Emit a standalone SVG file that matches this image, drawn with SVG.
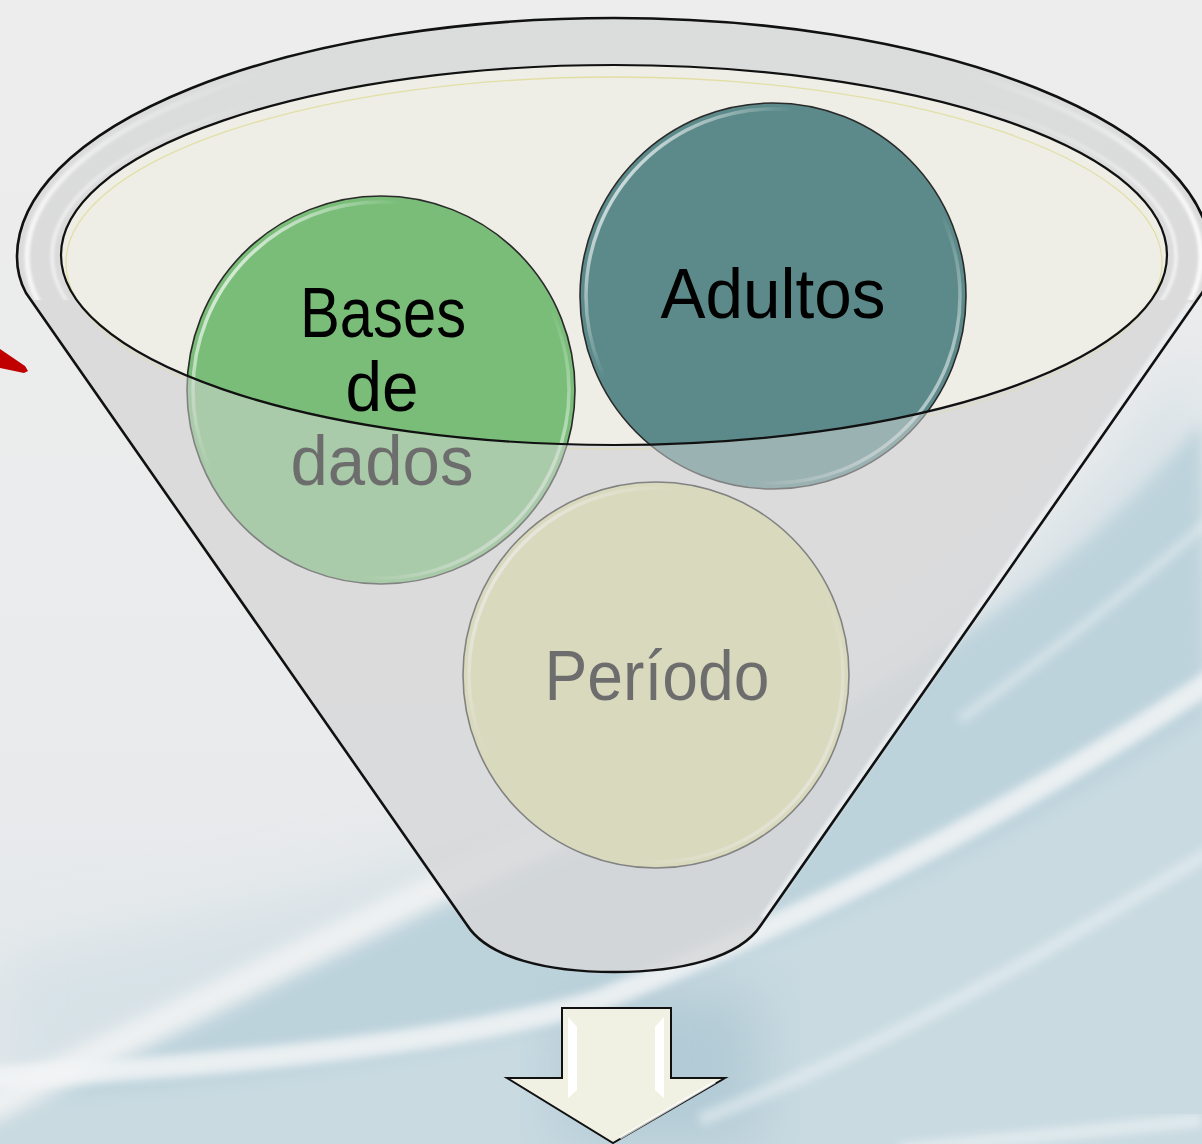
<svg xmlns="http://www.w3.org/2000/svg" width="1202" height="1144" viewBox="0 0 1202 1144">
<defs>
<style>
.lbl{font-family:"Liberation Sans",Arial,sans-serif;font-size:70px;fill:#000;text-anchor:middle}
.cstroke{stroke:#2a2a2a;stroke-width:1.6}
.ring{fill:none;stroke:url(#ring);stroke-width:3.5}
</style>
<filter id="blur30" x="-20%" y="-20%" width="140%" height="140%"><feGaussianBlur stdDeviation="30"/></filter>
<filter id="blur8" x="-20%" y="-20%" width="140%" height="140%"><feGaussianBlur stdDeviation="8"/></filter>
<filter id="blur4" x="-20%" y="-20%" width="140%" height="140%"><feGaussianBlur stdDeviation="4"/></filter>
<filter id="blur2" x="-20%" y="-20%" width="140%" height="140%"><feGaussianBlur stdDeviation="1.5"/></filter>
<linearGradient id="ring" x1="0" y1="0.15" x2="1" y2="0.85">
<stop offset="0" stop-color="#fff" stop-opacity="0.95"/>
<stop offset="0.3" stop-color="#fff" stop-opacity="0"/>
<stop offset="0.7" stop-color="#fff" stop-opacity="0"/>
<stop offset="1" stop-color="#fff" stop-opacity="0.75"/>
</linearGradient>
<linearGradient id="rimhl" gradientUnits="userSpaceOnUse" x1="0" y1="0" x2="1202" y2="0">
<stop offset="0" stop-color="#fff" stop-opacity="0.9"/>
<stop offset="0.1" stop-color="#fff" stop-opacity="0.4"/>
<stop offset="0.22" stop-color="#fff" stop-opacity="0"/>
<stop offset="0.8" stop-color="#fff" stop-opacity="0"/>
<stop offset="0.92" stop-color="#fff" stop-opacity="0.4"/>
<stop offset="1" stop-color="#fff" stop-opacity="0.9"/>
</linearGradient>
<linearGradient id="bgv" x1="0" y1="0" x2="0" y2="1">
<stop offset="0" stop-color="#EDEDED"/>
<stop offset="0.6" stop-color="#EAEBEC"/>
<stop offset="1" stop-color="#E2E8EB"/>
</linearGradient>
<clipPath id="topclip"><rect x="0" y="0" width="1202" height="300"/></clipPath>
</defs>

<g id="background">
<rect width="1202" height="1144" fill="url(#bgv)"/>
<path d="M1202,330 C1100,500 950,640 760,740 C560,840 300,900 0,960 L0,1144 L1202,1144 Z" fill="#D7E2E7" filter="url(#blur30)"/>
<path d="M1202,420 C1110,540 960,650 780,745 L420,900 L-20,1110 L-20,1160 L1220,1160 Z" fill="#BDD3DC" filter="url(#blur8)"/>
<path d="M1230,700 C1050,820 850,920 600,1010 C450,1060 200,1090 -20,1100 L-20,1160 L1220,1160 Z" fill="#C9DAE1" filter="url(#blur8)"/>
<path d="M560,990 L760,990 L760,1144 L560,1144 Z" fill="#B2CBD6" filter="url(#blur30)"/>
<path d="M-20,1112 L420,898 L720,760" fill="none" stroke="#F4F5F5" stroke-width="30" stroke-opacity="0.85" filter="url(#blur8)"/>
<path d="M1230,668 C1050,790 850,900 600,1000 C450,1045 200,1068 -20,1078" fill="none" stroke="#F2F5F6" stroke-width="22" stroke-opacity="0.85" filter="url(#blur4)"/>
<path d="M1230,840 C1050,950 900,1040 700,1120" fill="none" stroke="#EEF3F5" stroke-width="14" stroke-opacity="0.5" filter="url(#blur4)"/>
<path d="M1210,520 C1120,600 1040,660 960,720" fill="none" stroke="#EEF3F5" stroke-width="10" stroke-opacity="0.45" filter="url(#blur4)"/>
<path d="M1202,1120 C1100,1130 1000,1140 900,1150" fill="none" stroke="#EEF3F5" stroke-width="14" stroke-opacity="0.6" filter="url(#blur4)"/>
</g>

<g id="red-mark">
<polygon points="0,349 25,366 28,371 24,373 0,368" fill="#C00000"/>
</g>

<g id="funnel-base">
<path d="M26,293 C20,282 17,270 17,257 A597,239 0 0 1 1211,257 C1211,272 1208,283 1202,293 L761,925 C740,958 680,972 614,972 C548,972 488,958 467,925 Z" fill="#D2D4D5" fill-opacity="0.6"/>
<ellipse cx="614" cy="255" rx="553" ry="190" fill="#EEEEE6"/>
<ellipse cx="614" cy="263" rx="548" ry="186" fill="none" stroke="#E2DFA6" stroke-width="1.3"/>
</g>

<g id="node-bases">
<circle cx="381" cy="390" r="194" fill="#79BD79" class="cstroke"/>
<circle cx="381" cy="390" r="188" class="ring"/>
<text class="lbl" x="383" y="337" textLength="166" lengthAdjust="spacingAndGlyphs">Bases</text>
<text class="lbl" x="382" y="411" textLength="73" lengthAdjust="spacingAndGlyphs">de</text>
<text class="lbl" x="382" y="485" textLength="183" lengthAdjust="spacingAndGlyphs">dados</text>
</g>

<g id="node-adultos">
<circle cx="773" cy="296" r="193" fill="#5C8A8A" class="cstroke"/>
<circle cx="773" cy="296" r="187" class="ring"/>
<text class="lbl" x="773" y="318" textLength="225" lengthAdjust="spacingAndGlyphs">Adultos</text>
</g>

<g id="node-periodo">
<circle cx="656" cy="675" r="193" fill="#D9D9A2" class="cstroke"/>
<circle cx="656" cy="675" r="187" class="ring"/>
<text class="lbl" x="657" y="700" textLength="225" lengthAdjust="spacingAndGlyphs">Período</text>
</g>

<g id="funnel-overlay">
<path fill-rule="evenodd" d="M26,293 C20,282 17,270 17,257 A597,239 0 0 1 1211,257 C1211,272 1208,283 1202,293 L761,925 C740,958 680,972 614,972 C548,972 488,958 467,925 Z M61,255 A553,190 0 1 0 1167,255 A553,190 0 1 0 61,255 Z" fill="#D9D9D9" fill-opacity="0.5"/>
<g clip-path="url(#topclip)" filter="url(#blur2)">
<ellipse cx="614" cy="257" rx="587" ry="229" fill="none" stroke="url(#rimhl)" stroke-width="5"/>
<ellipse cx="614" cy="256" rx="562" ry="198" fill="none" stroke="url(#rimhl)" stroke-width="3"/>
</g>
<path d="M1191,303 L763,918" fill="none" stroke="#F2F5F7" stroke-width="6" stroke-opacity="0.75" filter="url(#blur2)"/>
<path d="M26,293 C20,282 17,270 17,257 A597,239 0 0 1 1211,257 C1211,272 1208,283 1202,293 L761,925 C740,958 680,972 614,972 C548,972 488,958 467,925 Z" fill="none" stroke="#111" stroke-width="2.6" stroke-linejoin="round"/>
<ellipse cx="614" cy="255" rx="553" ry="190" fill="none" stroke="#111" stroke-width="2.2"/>
</g>

<g id="connectors">
<path d="M562,1008 L671,1008 L671,1078 L725,1078 L613,1143 L507,1078 L562,1078 Z" fill="#F1F1E3" stroke="#111" stroke-width="2" stroke-linejoin="miter"/>
<polygon points="568,1017 577,1027 577,1090 568,1098" fill="#fff"/>
<polygon points="664,1017 655,1027 655,1090 664,1098" fill="#fff"/>
<path d="M715,1082 L620,1138" fill="none" stroke="#fff" stroke-width="3" stroke-opacity="0.7"/>
</g>
</svg>
